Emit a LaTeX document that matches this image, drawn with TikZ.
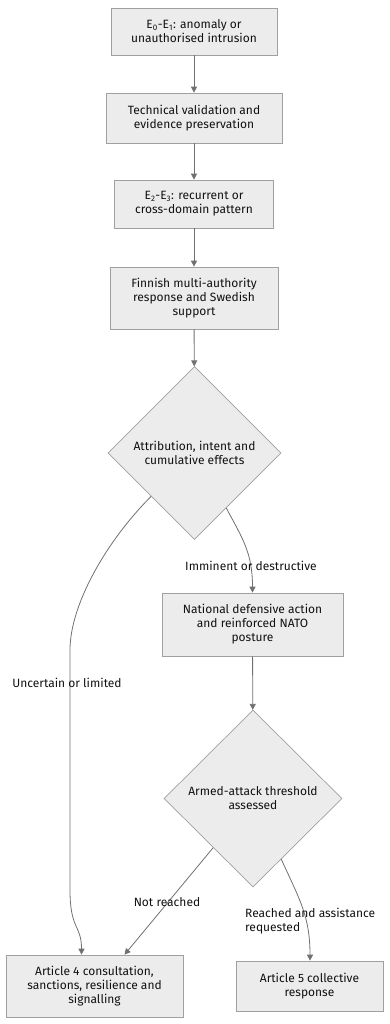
\documentclass[tikz,border=0pt]{standalone}
\usepackage{fontspec}
\setmainfont{Fira Sans}
\usetikzlibrary{shapes.geometric,arrows.meta}
\definecolor{boxfill}{HTML}{ECECEC}
\definecolor{boxline}{HTML}{A0A0A0}
\definecolor{edgeline}{HTML}{707070}
\definecolor{txt}{HTML}{111111}
\begin{document}
\begin{tikzpicture}[x=1pt,y=-1pt,
  every node/.style={font=\fontsize{12}{14}\selectfont, text=txt},
  box/.style={draw=boxline, fill=boxfill, line width=0.7pt, align=center, inner sep=0pt},
  dia/.style={diamond, draw=boxline, fill=boxfill, line width=0.7pt, align=center, inner sep=0pt, aspect=1},
  edge/.style={draw=edgeline, line width=0.8pt, -{Triangle[length=6pt,width=6pt]}},
  lbl/.style={inner sep=0pt}
]
\useasboundingbox (0,0) rectangle (389,1024);

\node[box, minimum width=166, minimum height=47] (n1) at (194,31.5) {E\textsubscript{0}-E\textsubscript{1}: anomaly or\\unauthorised intrusion};
\node[box, minimum width=176, minimum height=50] (n2) at (194,118) {Technical validation and\\evidence preservation};
\node[box, minimum width=159, minimum height=48] (n3) at (194,204) {E\textsubscript{2}-E\textsubscript{3}: recurrent or\\cross-domain pattern};
\node[box, minimum width=168, minimum height=62] (n4) at (194,298) {Finnish multi-authority\\response and Swedish\\support};
\node[dia, minimum width=173, minimum height=173] (d1) at (194.5,453) {Attribution, intent and\\cumulative effects};
\node[box, minimum width=181, minimum height=63] (n5) at (252.5,624.5) {National defensive action\\and reinforced NATO\\posture};
\node[dia, minimum width=178, minimum height=177] (d2) at (253,798.5) {Armed-attack threshold\\assessed};
\node[box, minimum width=177, minimum height=62] (n6) at (94.5,986) {Article 4 consultation,\\sanctions, resilience and\\signalling};
\node[box, minimum width=147, minimum height=50] (n7) at (309.5,986) {Article 5 collective\\response};

\draw[edge] (n1) -- (n2);
\draw[edge] (n2) -- (n3);
\draw[edge] (n3) -- (n4);
\draw[edge] (n4) -- (d1);
\draw[edge] (d1.-60) .. controls +(16,30) and +(0,-40) .. (n5.north);
\draw[edge] (n5) -- (d2);
\draw[edge] (d1.-135) .. controls +(-45,45) and +(0,-45) .. ([xshift=-24.5pt]n6.north |- 0,650) -- ([xshift=-24.5pt]n6.north |- 0,890) .. controls +(0,40) and +(0,-30) .. ([xshift=-13pt]n6.north);
\draw[edge] (d2.-129) -- ([xshift=30pt]n6.north);
\draw[edge] (d2.-65) .. controls +(18,40) and +(0,-45) .. ([xshift=0.5pt]n7.north);

\node[lbl] (l1) at (251,566) {Imminent or destructive};
\node[lbl] (l2) at (67,683) {Uncertain or limited};
\node[lbl] (l3) at (167,902) {Not reached};
\node[lbl, align=left, anchor=west] (l4) at (245,921) {Reached and assistance\\requested};
\end{tikzpicture}
\end{document}
